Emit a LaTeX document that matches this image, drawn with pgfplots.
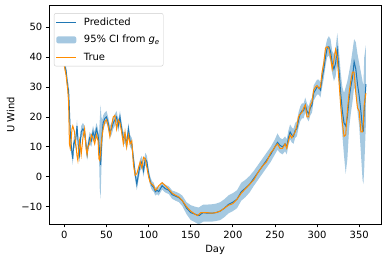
\documentclass[border=0pt]{standalone}
\usepackage{pgfplots}
\pgfplotsset{compat=1.18}
\usepackage{pgfplotstable}
\usepgfplotslibrary{fillbetween}
\usepackage{fontspec}
\setmainfont{DejaVu Sans}
\definecolor{mplblue}{HTML}{1F77B4}
\definecolor{bandblue}{HTML}{A5C8E1}
\definecolor{darkorange}{HTML}{FF8C00}
\definecolor{framegray}{HTML}{CCCCCC}
\pgfplotsset{legend image code/.code={\draw[#1] (0bp,0bp) -- (20bp,0bp);}}
\pgfplotstableread{
d t p lo hi
0 37 37.5 36 39
2 34 35.5 34 37
4 29 30 28 32
5 25 29 27 31
6 11 22 19.5 24.5
7 9.5 15 13 17
8 12 11 9 13
9 16 8 6 10
10 17 6 4 8
11 16 11 9 13
12 15 12 10 14
13 12 11 9 13
14 10 14 12 16
15 7 17 15 19
16 5.5 13 11 15
17 9 8 6 10
18 12 7 5 9
19 10 12 10 14
20 7.5 15 13 17
22 13 16 14 18
24 16 15 13 17
26 9 10 8 12
27 7.5 7.5 5.5 9.5
28 10 10 8 12
30 11 13 11 15
32 14 12 10 14
34 13 15 13 17
36 11 13 11 15
38 14 16 14 18
40 12 14 12 16
41 6 11 8.5 13.5
42 5.5 8 -4 19
43 8 4 -7.5 24
44 12 10 3 20
45 14 15 10 19
46 16 18 15.5 20.5
48 18.5 19.5 17.5 21.5
50 19 20 18 22
52 17 18 16 20
54 13.5 15 13 17
56 17 16 14 18
58 20 18 16 20
60 20.5 19 17 21
62 16 20 18 22
64 19 17 15 19
66 18 20 18 22
68 15 16 14 18
70 11 13 11 15
72 15 13 11 15
74 10 11 9 13
76 14 16 14 18
78 11 12 10 14
80 12 11 9 13
82 4 6 4 8
84 0.5 1 -1 3
86 1 -2.5 -4.5 -0.5
88 3 1 -1 3
90 5 4 2 6
92 3 5 3 7
94 6.5 2 0 4
96 6 6 4 8
98 3 5 3 7
100 0 1 -0.5 2.5
102 -2 -1.5 -3 0
104 -2.5 -3 -4.5 -1.5
106 -3 -3.5 -5 -2
108 -4.5 -5 -6.3 -3.7
110 -4 -4.5 -5.8 -3.2
112 -3 -5 -6.3 -3.7
114 -2.5 -4 -5.3 -2.7
116 -2 -3 -4.3 -1.7
118 -2.5 -3.5 -4.8 -2.2
120 -3 -4 -5.3 -2.7
124 -4.2 -4.5 -5.8 -3.2
128 -5.5 -6 -7.4 -4.6
132 -6.2 -6.5 -8 -5
136 -6.8 -7 -8.5 -5.5
140 -8 -8 -9.8 -6.3
145 -10 -10.5 -12.5 -8.5
150 -11.5 -12 -14.5 -9.5
155 -12.5 -12.5 -15.2 -10
158 -13 -12.8 -15.7 -10.2
160 -12.5 -13 -15.8 -10.2
162 -12 -12.5 -15.5 -9.8
165 -12 -12 -15 -9.3
170 -12 -12.2 -15 -9.3
175 -12.2 -12.2 -15 -9.2
180 -12 -12 -14.8 -9
185 -11.5 -11.5 -14.5 -8.5
190 -10.5 -10.5 -13.5 -7.5
195 -9.5 -9.2 -12.2 -6.2
200 -9 -8.5 -11.5 -5.5
205 -7.5 -7.5 -10.5 -4.5
210 -5.5 -5 -8 -2
215 -4 -3.8 -6.8 -1
220 -2.5 -2.5 -5.2 0.3
225 -1 -0.5 -3 2
230 1.5 1.5 -1 4
235 3.5 3.5 1 6
240 5 5.5 3 8
245 8 7.5 5 10
248 9 9 6.5 11.5
250 10 10 7.5 12.5
253 11 11.5 9 14.5
256 9.5 10.5 8 13
259 9.5 10 7.5 12.5
262 11 11 8.5 13.5
264 9.5 10 7.5 12.5
266 12 13 10.5 15.5
268 14 15 12.5 17.5
270 13 14 11.5 16.5
272 14 13.5 11 16
274 15 15.5 13 18
276 17 16 13.5 18.5
278 20 19 16.5 21.5
280 21 21 18.5 23.5
282 21.5 22 19.5 24.5
284 23 22 19.5 24.5
286 24 24 21.5 26.5
288 20 22 19.5 24.5
290 20 21 18.5 23.5
292 24 23 20.5 25.5
294 25 24 21.5 26.5
296 29 28 25.5 30.5
298 30 29 26.5 31.5
300 30.5 30 27.5 32.5
302 29.5 30 27.5 32.5
304 30 29 26.5 31.5
306 35 33 30 36
308 38 36 33 39.5
310 43 40 37 43.5
312 43.5 43 40 46
314 43 43.5 40.5 47
316 40 42 38.5 46
318 36 38 34.5 42
320 39 36 32 41
322 42.5 38 33.5 43
324 40 42.5 38 48
326 32 36 31 42
328 24 28 22 35
330 18 22 14 30
332 13.5 18 7 28
334 14 17 1 30
336 22 20 6 32
338 28 26 16 35
340 32 30 21 38
342 35 33 25 42
344 35 38.5 30 46
346 28 36 28 45
348 23 31 22 41
350 22 27 17 38
352 15 22 8 35
354 15 16 -1 32
355 18 15.5 -2.5 30
356 24 22 3 40
358 28 31 18 44
}\data
\begin{document}
\begin{tikzpicture}
\begin{axis}[
  scale only axis, width=331.7bp, height=218.3bp,
  xmin=-17.9, xmax=375.9, ymin=-15.8, ymax=57.2,
  xtick={0,50,100,150,200,250,300,350},
  ytick={-10,0,10,20,30,40,50},
  yticklabels={−10,0,10,20,30,40,50},
  tick align=outside, xtick pos=bottom, ytick pos=left,
  major tick length=3.5bp,
  every tick/.style={black, line width=0.8bp},
  axis line style={line width=0.8bp},
  ticklabel style={font=\fontsize{10}{12}\selectfont},
  label style={font=\fontsize{10}{12}\selectfont},
  /pgf/number format/assume math mode=true,
  xlabel={Day}, ylabel={U Wind},
  legend style={at={(0.014,0.966)}, anchor=north west, draw=framegray, rounded corners=2bp, fill=white, font=\fontsize{10}{12}\selectfont, row sep=4.5bp, inner xsep=1.5bp, inner ysep=2.5bp, column sep=5bp},
  legend cell align=left,
]
\addlegendimage{draw=mplblue, line width=1.3bp}
\addlegendentry{Predicted}
\addlegendimage{legend image code/.code={\path[fill=bandblue, draw=none] (0bp,-3.5bp) rectangle (20bp,3.5bp);}}
\addlegendentry{95\% CI from \textit{g}\textsubscript{\textit{e}}}
\addlegendimage{draw=darkorange, line width=1.3bp}
\addlegendentry{True}
\addplot[mplblue, line width=1bp, forget plot] table[x=d,y=p]{\data};
\addplot[name path=hi, draw=none, forget plot] table[x=d,y=hi]{\data};
\addplot[name path=lo, draw=none, forget plot] table[x=d,y=lo]{\data};
\addplot[fill=mplblue, fill opacity=0.4, draw=none, forget plot] fill between[of=hi and lo];
\addplot[darkorange, line width=1bp, forget plot] table[x=d,y=t]{\data};
\end{axis}
\pgfresetboundingbox
\useasboundingbox (-49.3bp,-38bp) rectangle (341.7bp,224bp);
\end{tikzpicture}
\end{document}
